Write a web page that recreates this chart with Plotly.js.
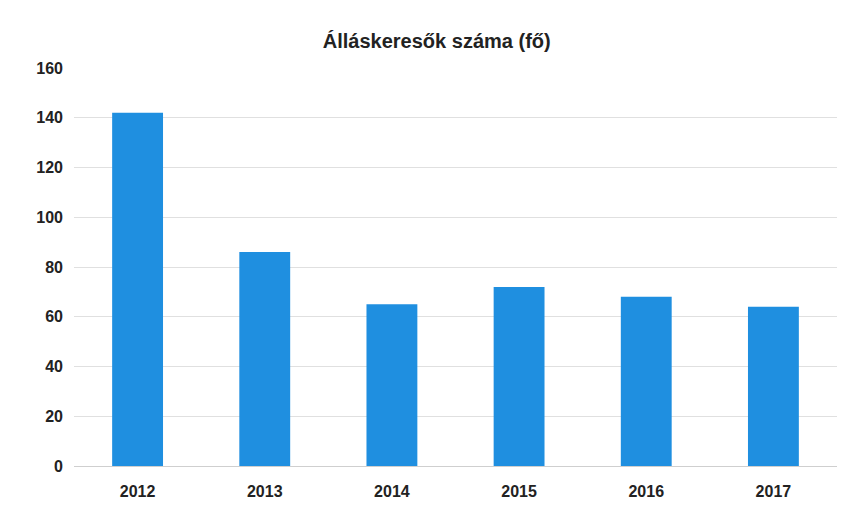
<!DOCTYPE html>
<html>
<head>
<meta charset="utf-8">
<script src="https://cdn.plot.ly/plotly-3.0.1.min.js"></script>
<style>html,body{margin:0;padding:0;background:#fff;}#chart{width:853px;height:506px;}</style>
</head>
<body>
<div id="chart"></div>
<script>
const years = ['2012', '2013', '2014', '2015', '2016', '2017'];
const jobseekers = [142, 86, 65, 72, 68, 64];
const yTicks = [0, 20, 40, 60, 80, 100, 120, 140, 160];

const trace = {
  type: 'bar',
  x: years,
  y: jobseekers,
  marker: {color: '#1f8fe0'},
  hoverinfo: 'x+y'
};

const layout = {
  width: 853,
  height: 506,
  margin: {l: 74, r: 16, t: 68, b: 40},
  paper_bgcolor: '#ffffff',
  plot_bgcolor: '#ffffff',
  bargap: 0.6,
  showlegend: false,
  title: {
    text: '<b>Álláskeresők száma (fő)</b>',
    font: {family: 'Liberation Sans, Arial, sans-serif', size: 20, color: '#222'},
    x: 0.512, xanchor: 'center', y: 0.918, yanchor: 'middle'
  },
  xaxis: {
    type: 'category',
    showgrid: false,
    showline: false,
    zeroline: false,
    ticks: '',
    ticklabelstandoff: 14,
    tickfont: {family: 'Liberation Sans, Arial, sans-serif', size: 16, color: '#222', weight: 'bold'}
  },
  yaxis: {
    range: [0, 160],
    tickvals: yTicks,
    ticktext: yTicks.map(String),
    showgrid: true,
    gridcolor: '#e0e0e0',
    gridwidth: 1,
    zeroline: true,
    zerolinecolor: '#cfcfcf',
    showline: false,
    ticks: '',
    ticklabelstandoff: 10,
    tickfont: {family: 'Liberation Sans, Arial, sans-serif', size: 16, color: '#222', weight: 'bold'}
  }
};

Plotly.newPlot('chart', [trace], layout, {displayModeBar: false, staticPlot: true});
</script>
</body>
</html>
